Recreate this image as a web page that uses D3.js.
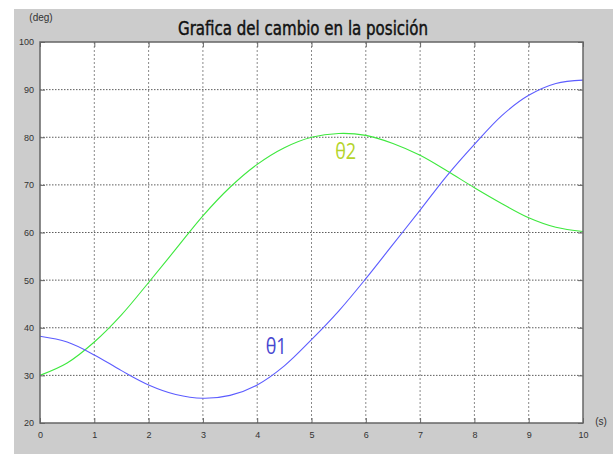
<!DOCTYPE html>
<html>
<head>
<meta charset="utf-8">
<script src="https://cdn.jsdelivr.net/npm/d3@7"></script>
<style>
  body { margin: 0; background: #fff; }
  svg { display: block; }
  text { font-family: "Liberation Sans Narrow", "Liberation Sans", sans-serif; }
</style>
</head>
<body>
<svg id="chart"></svg>
<script>
var width = 613;
var height = 454;

// data
var tiempo = [0, 0.5, 1, 1.5, 2, 2.5, 3, 3.5, 4, 4.5, 5, 5.5, 6, 6.5, 7, 7.5, 8, 8.5, 9, 9.5, 10];
var theta1 = [38.2, 37, 34.3, 31, 28, 26, 25.2, 25.8, 28, 32, 37.5, 43.5, 50.3, 57.5, 64.7, 72, 78.5, 84.5, 88.8, 91.3, 92];
var theta2 = [30, 32.6, 37, 42.7, 49.5, 56.5, 63.5, 69.5, 74.3, 77.8, 80, 80.8, 80.4, 78.7, 76.2, 72.9, 69.4, 66.1, 63.1, 61.1, 60.2];
var xTicks = [0, 1, 2, 3, 4, 5, 6, 7, 8, 9, 10];
var yTicks = [20, 30, 40, 50, 60, 70, 80, 90, 100];

var margin = {left: 40, top: 42, right: 30, bottom: 31};

var svg = d3.select("#chart")
    .attr("width", width)
    .attr("height", height);

// gray figure background
svg.append("rect")
    .attr("x", 14).attr("y", 9)
    .attr("width", width - 14).attr("height", height - 9)
    .attr("fill", "#cccccc");

let x = d3.scaleLinear().domain([0, 10]).range([margin.left, width - margin.right]);
let y = d3.scaleLinear().domain([20, 100]).range([height - margin.bottom, margin.top]);

// plot area
svg.append("rect")
    .attr("x", x(0)).attr("y", y(100))
    .attr("width", x(10) - x(0)).attr("height", y(20) - y(100))
    .attr("fill", "#fff");

let grid = svg.append("g");
grid.selectAll(".vg")
    .data(xTicks.slice(1, -1))
    .join("line")
    .attr("x1", d => x(d)).attr("x2", d => x(d))
    .attr("y1", y(100)).attr("y2", y(20))
    .attr("stroke", "#8a8a8a")
    .attr("stroke-dasharray", "2,2");
grid.selectAll(".hg")
    .data(yTicks.slice(1, -1))
    .join("line")
    .attr("x1", x(0)).attr("x2", x(10))
    .attr("y1", d => y(d)).attr("y2", d => y(d))
    .attr("stroke", "#333")
    .attr("stroke-width", 0.8)
    .attr("stroke-dasharray", "1.5,1.5");

// curves
let line = d3.line()
    .x((d, i) => x(tiempo[i]))
    .y(d => y(d))
    .curve(d3.curveCatmullRom);

svg.append("path")
    .datum(theta2)
    .attr("d", line)
    .attr("fill", "none")
    .attr("stroke", "#3ee83e")
    .attr("stroke-width", 1.1);
svg.append("path")
    .datum(theta1)
    .attr("d", line)
    .attr("fill", "none")
    .attr("stroke", "#5c5cff")
    .attr("stroke-width", 1.1);

// axes (ticks inward)
let xAxis = d3.axisBottom(x).tickValues(xTicks).tickSize(-5).tickPadding(9).tickFormat(d3.format("d"));
let yAxis = d3.axisLeft(y).tickValues(yTicks).tickSize(-5).tickPadding(6).tickFormat(d3.format("d"));

let gx = svg.append("g").attr("transform", "translate(0," + y(20) + ")").call(xAxis);
let gy = svg.append("g").attr("transform", "translate(" + x(0) + ",0)").call(yAxis);
svg.append("g").attr("transform", "translate(" + x(10) + ",0)")
    .call(d3.axisRight(y).tickValues(yTicks).tickSize(-5).tickFormat(""));
svg.append("g").attr("transform", "translate(0," + y(100) + ")")
    .call(d3.axisTop(x).tickValues(xTicks).tickSize(-5).tickFormat(""));

svg.selectAll(".domain").remove();
svg.selectAll(".tick line").attr("stroke", "#666");
[gx, gy].forEach(g => g.selectAll("text")
    .attr("font-size", 9)
    .attr("fill", "#333")
    .style("font-family", "'Liberation Sans Narrow', sans-serif"));

// frame
svg.append("rect")
    .attr("x", x(0)).attr("y", y(100))
    .attr("width", x(10) - x(0)).attr("height", y(20) - y(100))
    .attr("fill", "none")
    .attr("stroke", "#666")
    .attr("stroke-width", 1.5);

// title and units
svg.append("text")
    .attr("x", 303).attr("y", 35)
    .attr("text-anchor", "middle")
    .attr("font-size", 20)
    .attr("fill", "#111")
    .attr("stroke", "#111")
    .attr("stroke-width", 0.45)
    .attr("textLength", 250)
    .attr("lengthAdjust", "spacingAndGlyphs")
    .style("font-family", "'DejaVu Sans Condensed', 'DejaVu Sans', sans-serif")
    .text("Grafica del cambio en la posición");
svg.append("text")
    .attr("x", 41).attr("y", 21)
    .attr("text-anchor", "middle")
    .attr("font-size", 10)
    .attr("fill", "#333")
    .text("(deg)");
svg.append("text")
    .attr("x", 601).attr("y", 425)
    .attr("text-anchor", "middle")
    .attr("font-size", 10)
    .attr("fill", "#333")
    .text("(s)");

// curve labels
svg.append("text")
    .attr("x", x(5.63)).attr("y", 159)
    .attr("text-anchor", "middle")
    .attr("font-size", 21)
    .attr("fill", "#b4d42a")
    .attr("textLength", 21)
    .attr("lengthAdjust", "spacingAndGlyphs")
    .style("font-family", "'Open Sans', sans-serif")
    .text("θ2");
svg.append("text")
    .attr("x", x(4.35)).attr("y", 354)
    .attr("text-anchor", "middle")
    .attr("font-size", 21)
    .attr("fill", "#4646d0")
    .attr("textLength", 21)
    .attr("lengthAdjust", "spacingAndGlyphs")
    .style("font-family", "'Open Sans', sans-serif")
    .text("θ1");
</script>
</body>
</html>
